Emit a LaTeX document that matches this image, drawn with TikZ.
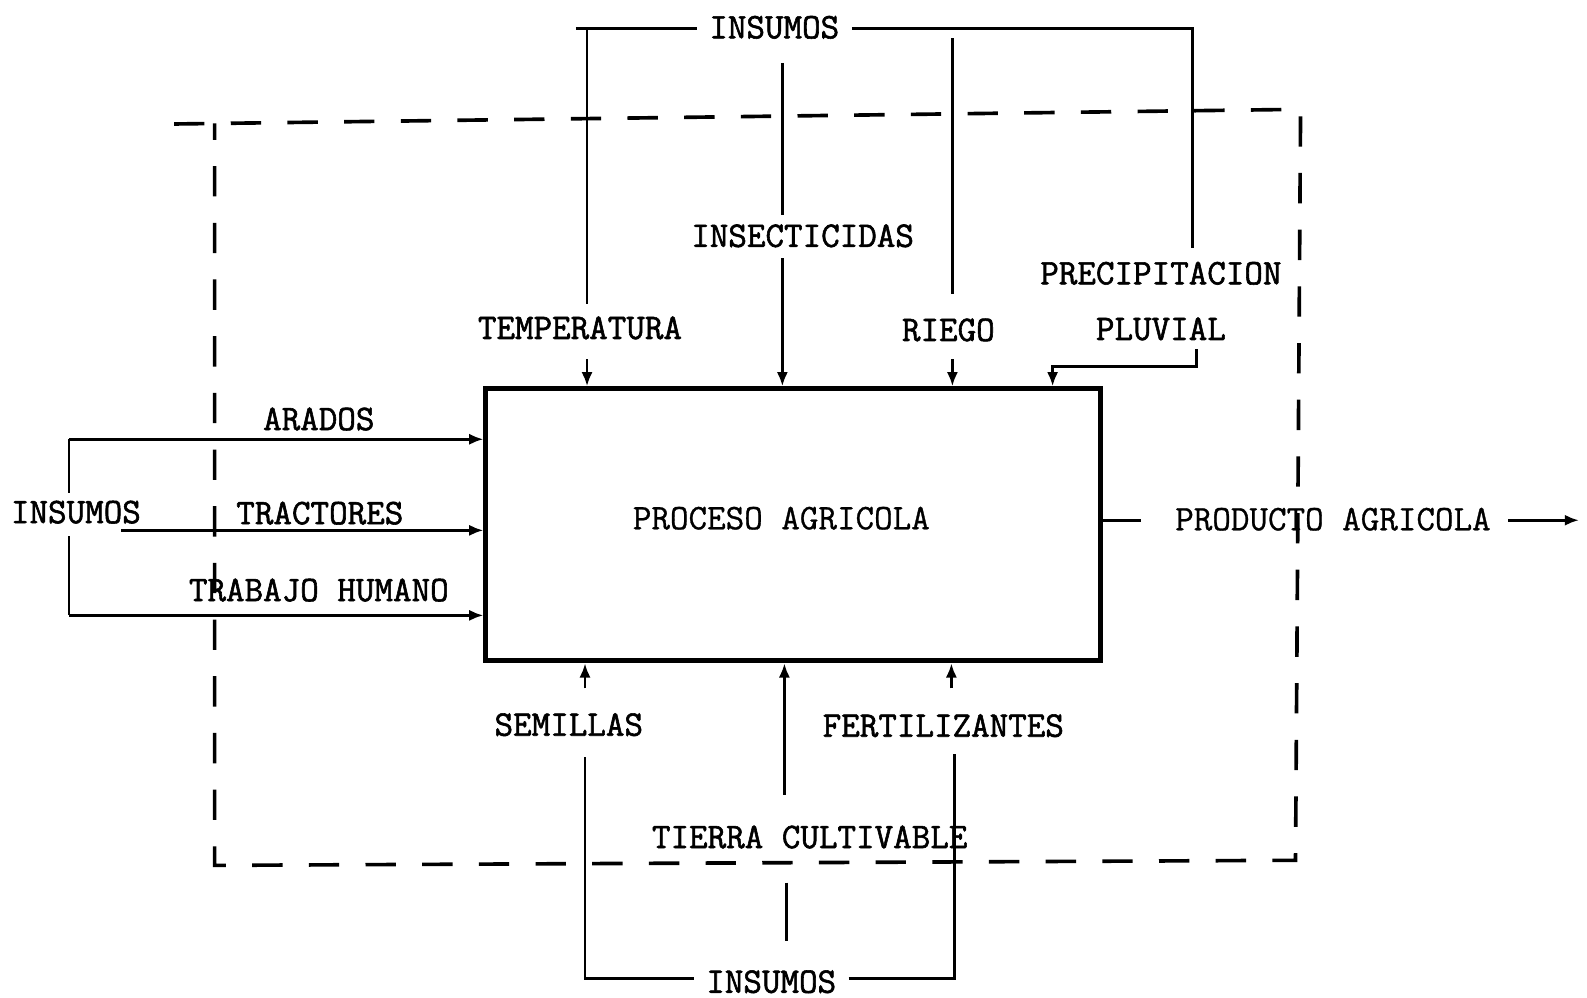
\documentclass[tikz,border=0pt]{standalone}
\usepackage{fontspec}
\newfontfamily\typefont{Latin Modern Mono}[FakeBold=1.6]
\newfontfamily\typefontlight{Latin Modern Mono}[FakeBold=0.8]
\usetikzlibrary{arrows.meta}
\begin{document}
\begin{tikzpicture}[x=0.5pt,y=-0.5pt,
  lbl/.style={font=\typefont\fontsize{17.8}{20}\selectfont, inner sep=0pt},
  lbll/.style={font=\typefontlight\fontsize{17.8}{20}\selectfont, inner sep=0pt},
  flow/.style={line width=1.3pt},
  feed/.style={flow, -{Latex[length=7pt,width=5.5pt]}},
  bound/.style={line width=1.8pt, dash pattern=on 15pt off 13pt},
  procbox/.style={draw, line width=2.4pt, minimum width=303.5pt,
                  minimum height=134.5pt, inner sep=0pt}]
\useasboundingbox (0,0) rectangle (1568,986);

% system boundary
\coordinate (bTL) at (212,122);
\coordinate (bTR) at (1285,108);
\coordinate (bBR) at (1280,850);
\coordinate (bBL) at (212,855);
\draw[bound] (172,122.5) -- (bTR) -- (bBR) -- (bBL) -- (bTL);

% central process
\node[procbox] (proc) at (783.5,518.5) {};
\node[lbll] (proct) at (772,512) {PROCESO AGRICOLA};

% ---------- upper inputs ----------
\node[lbl] (insT) at (765,27) {INSUMOS};
\node[lbl] (temp) at (573,324) {TEMPERATURA};
\node[lbl] (insec) at (793,233) {INSECTICIDAS};
\node[lbl] (riego) at (937,326) {RIEGO};
\node[lbl] (prec) at (1147,270) {PRECIPITACION};
\node[lbl] (pluv) at (1147,325) {PLUVIAL};

\coordinate (tL) at (569,28);
\coordinate (tR) at (1178,28);
\coordinate (tT) at (580,28);
\draw[flow] (tL) -- ([xshift=-6pt]insT.west |- tL);
\draw[flow] ([xshift=6pt]insT.east |- tR) -- (tR) -- (1178,245);
\draw[flow] (tT) -- (580,300);
\draw[feed] (580,355) -- (proc.north -| 580,0);

\draw[flow] (773,62) -- (773,212);
\draw[feed] (773,255) -- (proc.north -| 773,0);

\draw[flow] (941,38) -- (941,290);
\draw[feed] (941,355) -- (proc.north -| 941,0);

\coordinate (pA) at (1182,345);
\coordinate (pB) at (1182,362);
\coordinate (pC) at (1040,362);
\draw[feed] (pA) -- (pB) -- (pC) -- (proc.north -| pC);

% ---------- left inputs ----------
\node[lbl] (insL) at (75,506) {INSUMOS};
\node[lbl] (arad) at (315,414) {ARADOS};
\node[lbl] (tract) at (316,507) {TRACTORES};
\node[lbl] (trab) at (315,583) {TRABAJO HUMANO};

\coordinate (lA) at (68,434);
\coordinate (lB) at (68,608);
\draw[feed] (lA) -- (proc.west |- lA);
\draw[feed] (120,524) -- (proc.west |- 0,524);
\draw[feed] (lB) -- (proc.west |- lB);
\draw[flow] (lA) -- (68,487);
\draw[flow] (68,530) -- (lB);

% ---------- output ----------
\node[lbll] (prod) at (1317,513) {PRODUCTO AGRICOLA};
\draw[flow] (proc.east |- 0,514) -- (1127,514);
\draw[feed] (1490,514) -- (1560,514);

% ---------- lower inputs ----------
\node[lbl] (sem) at (562,716) {SEMILLAS};
\node[lbl] (fert) at (932,717) {FERTILIZANTES};
\node[lbl] (tierra) at (800,827) {TIERRA CULTIVABLE};
\node[lbl] (insB) at (762,970) {INSUMOS};

\draw[feed] (578,680) -- (proc.south -| 578,0);
\draw[feed] (940,680) -- (proc.south -| 940,0);
\draw[feed] (775,785) -- (proc.south -| 775,0);
\draw[flow] (777,872) -- (777,930);

\coordinate (sA) at (578,748);
\coordinate (sB) at (578,967);
\coordinate (fA) at (943,745);
\coordinate (fB) at (943,967);
\draw[flow] (sA) -- (sB) -- ([xshift=-6pt]insB.west |- sB);
\draw[flow] ([xshift=6pt]insB.east |- fB) -- (fB) -- (fA);
\end{tikzpicture}
\end{document}
